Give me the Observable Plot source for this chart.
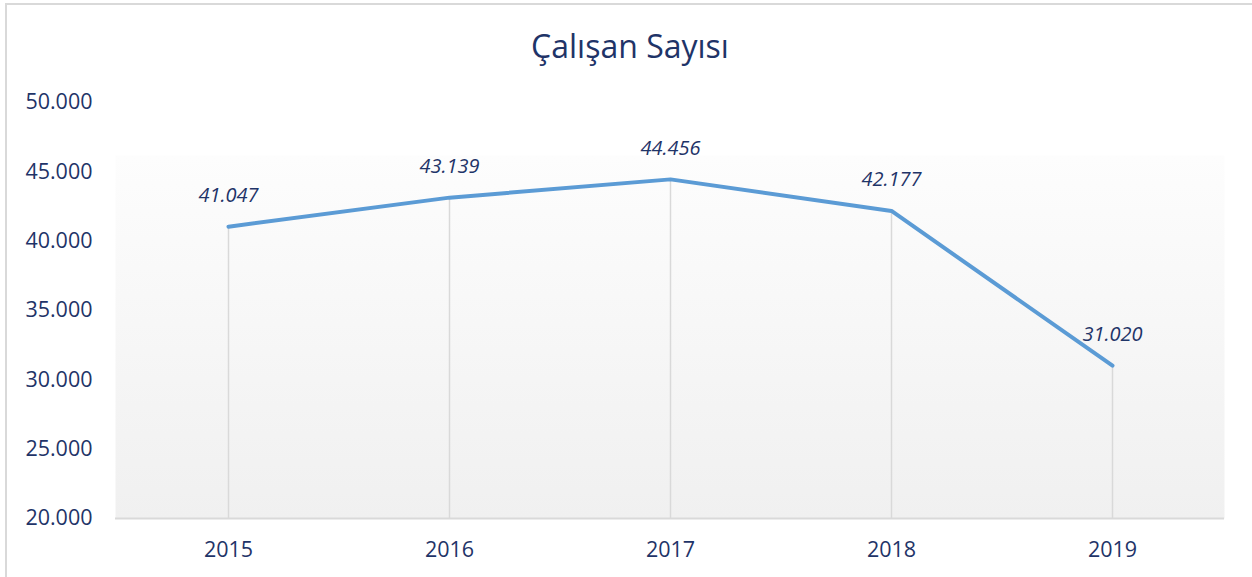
<!DOCTYPE html>
<html>
<head>
<meta charset="utf-8">
<script src="https://cdn.jsdelivr.net/npm/d3@7"></script>
<script src="https://cdn.jsdelivr.net/npm/@observablehq/plot@0.6"></script>
<style>
  html, body { margin: 0; padding: 0; background: #fff; }
  #wrap { position: relative; width: 1252px; height: 577px; overflow: hidden; }
  #border { position: absolute; left: 5px; top: 3px; width: 1260px; height: 600px;
            border-left: 2px solid #d9d9d9; border-top: 2px solid #d9d9d9; box-sizing: border-box; }
  #title { position: absolute; left: 0; top: 27px; width: 1260px; text-align: center; line-height: 1.2;
           font-family: "Open Sans", "Noto Sans", sans-serif; font-size: 32px; color: #1f3468; }
  #chart { position: absolute; left: 0; top: 0; }
</style>
</head>
<body>
<div id="wrap">
  <div id="border"></div>
  <div id="chart"></div>
  <div id="title">Çalışan Sayısı</div>
</div>
<script>
const years = ["2015", "2016", "2017", "2018", "2019"];
const employees = [41047, 43139, 44456, 42177, 31020];
const yTicks = [20000, 25000, 30000, 35000, 40000, 45000, 50000];

const data = years.map((y, i) => ({year: y, value: employees[i]}));
const fmt = v => d3.format(",")(v).replace(/,/g, ".");

const plot = Plot.plot({
  width: 1252,
  height: 577,
  marginTop: 102,
  marginBottom: 59,
  marginLeft: 115,
  marginRight: 28,
  style: {fontFamily: "'Open Sans', 'Noto Sans', sans-serif", background: "transparent", color: "#1f3468"},
  x: {type: "point", domain: years, padding: 0.5, label: null},
  y: {domain: [20000, 50000], ticks: yTicks, label: null, tickFormat: fmt},
  marks: [
    () => {
      const ns = "http://www.w3.org/2000/svg";
      const defs = document.createElementNS(ns, "defs");
      defs.innerHTML = `<linearGradient id="bg" x1="0" y1="0" x2="0" y2="1">
        <stop offset="0" stop-color="#ffffff" stop-opacity="0"/>
        <stop offset="0.126" stop-color="#ffffff" stop-opacity="0"/>
        <stop offset="0.128" stop-color="#fdfdfd"/>
        <stop offset="1" stop-color="#f0f0f0"/>
      </linearGradient>`;
      return defs;
    },
    Plot.frame({fill: "url(#bg)", stroke: null}),
    Plot.ruleX(data, {x: "year", y1: 20000, y2: "value", stroke: "#d9d9d9", strokeWidth: 1.5}),
    Plot.ruleY([20000], {stroke: "#d9d9d9", strokeWidth: 2}),
    Plot.line(data, {x: "year", y: "value", stroke: "#5b9bd5", strokeWidth: 4, strokeLinecap: "round", strokeLinejoin: "round"}),
    Plot.text(data, {x: "year", y: "value", text: d => fmt(d.value), dy: -31, fontSize: 20, fontStyle: "italic", fill: "#1f3468"}),
    Plot.axisY({ticks: yTicks, tickFormat: fmt, tickSize: 0, tickPadding: 23, fontSize: 21.5, fill: "#1f3468", label: null}),
    Plot.axisX({tickSize: 0, tickPadding: 23, fontSize: 21.5, fill: "#1f3468", label: null})
  ]
});
document.getElementById("chart").appendChild(plot);
</script>
</body>
</html>
